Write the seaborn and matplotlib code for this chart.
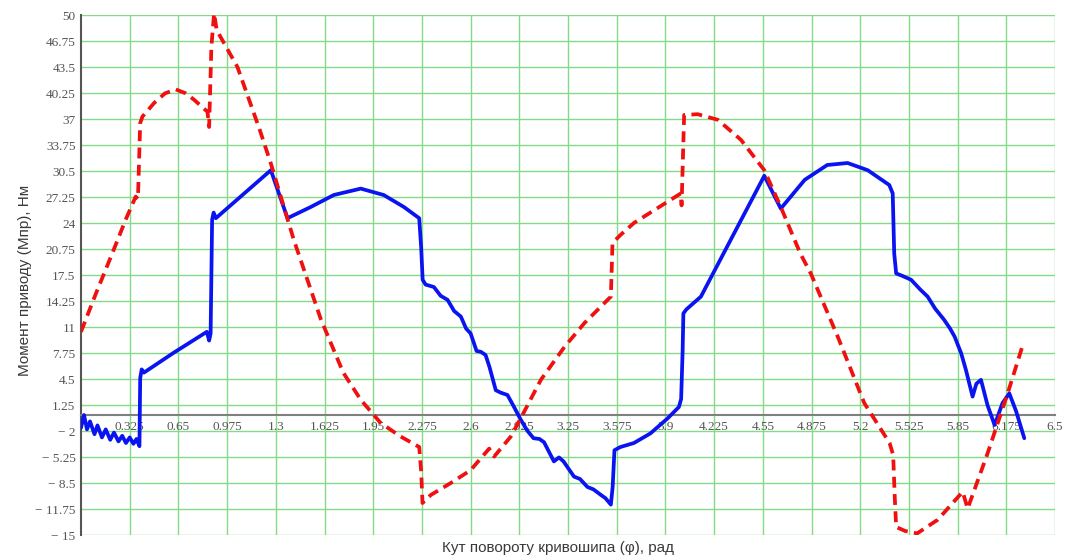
import numpy as np
import pandas as pd
import matplotlib
matplotlib.use("Agg")
import matplotlib.pyplot as plt
import seaborn as sns

# ---- data ----
blue_phi = [0.000, 0.020, 0.040, 0.060, 0.090, 0.110, 0.140, 0.165, 0.195, 0.220,
            0.250, 0.275, 0.300, 0.325, 0.350, 0.370, 0.390, 0.395, 0.405, 0.420,
            0.620, 0.840, 0.855, 0.865, 0.875, 0.885, 0.900, 1.267, 1.378, 1.533,
            1.687, 1.867, 2.020, 2.155, 2.257, 2.270, 2.280, 2.300, 2.355, 2.400,
            2.446, 2.490, 2.535, 2.570, 2.600, 2.640, 2.668, 2.700, 2.726, 2.768,
            2.800, 2.846, 2.890, 2.935, 2.980, 3.020, 3.060, 3.090, 3.156, 3.190,
            3.220, 3.290, 3.330, 3.380, 3.420, 3.470, 3.500, 3.536, 3.548, 3.560,
            3.600, 3.690, 3.800, 3.916, 3.990, 4.005, 4.015, 4.020, 4.040, 4.137,
            4.560, 4.670, 4.830, 4.980, 5.116, 5.250, 5.394, 5.417, 5.427, 5.440,
            5.480, 5.540, 5.600, 5.650, 5.700, 5.760, 5.800, 5.830, 5.874, 5.906,
            5.950, 5.975, 6.006, 6.050, 6.097, 6.150, 6.195, 6.240, 6.295]
blue_m = [-1.6, 0.0, -1.8, -0.8, -2.4, -1.3, -2.8, -1.8, -3.1, -2.2,
          -3.3, -2.6, -3.5, -2.8, -3.6, -3.0, -3.9, 4.6, 5.7, 5.3,
          7.8, 10.4, 9.3, 10.2, 24.4, 25.3, 24.6, 30.6, 24.6, 26.0,
          27.5, 28.3, 27.5, 26.0, 24.6, 21.0, 16.9, 16.3, 16.0, 14.9,
          14.4, 13.0, 12.3, 10.8, 10.2, 8.0, 7.9, 7.5, 6.0, 3.1,
          2.8, 2.5, 1.0, -0.6, -2.0, -2.9, -3.0, -3.4, -5.8, -5.3,
          -5.8, -7.7, -8.0, -9.0, -9.3, -10.0, -10.4, -11.2, -9.0, -4.4,
          -4.0, -3.5, -2.3, -0.4, 1.0, 2.0, 8.0, 12.7, 13.2, 14.8,
          29.9, 25.8, 29.4, 31.25, 31.5, 30.6, 28.75, 27.7, 20.2, 17.7,
          17.4, 16.9, 15.7, 14.8, 13.3, 11.9, 10.8, 9.8, 7.7, 5.6,
          2.3, 3.9, 4.4, 1.2, -1.25, 1.5, 2.7, 0.5, -2.9]

red_phi = [0.000, 0.100, 0.200, 0.300, 0.365, 0.380, 0.395, 0.410, 0.488, 0.560,
           0.632, 0.700, 0.755, 0.844, 0.855, 0.870, 0.888, 0.906, 1.044, 1.190,
           1.266, 1.420, 1.600, 1.750, 1.867, 2.000, 2.134, 2.257, 2.270, 2.279,
           2.334, 2.468, 2.600, 2.724, 2.757, 2.868, 2.946, 3.069, 3.226, 3.360,
           3.536, 3.547, 3.600, 3.690, 3.825, 4.003, 4.008, 4.025, 4.115, 4.250,
           4.404, 4.560, 4.670, 4.800, 4.870, 5.050, 5.227, 5.396, 5.420, 5.430,
           5.440, 5.500, 5.580, 5.717, 5.884, 5.917, 6.050, 6.184, 6.285]
red_m = [10.4, 15.2, 19.8, 24.5, 27.3, 27.0, 36.5, 37.3, 39.0, 40.2,
         40.7, 40.2, 39.4, 37.9, 36.0, 46.0, 50.2, 48.1, 43.5, 35.8,
         31.5, 21.9, 12.0, 5.3, 1.9, -1.0, -2.7, -4.0, -7.0, -11.0,
         -10.0, -8.5, -6.9, -4.2, -5.2, -2.7, 0.0, 4.4, 8.5, 11.5,
         14.8, 21.5, 22.5, 24.0, 25.6, 27.7, 26.2, 37.5, 37.6, 36.9,
         34.4, 30.6, 26.0, 20.2, 17.7, 9.8, 1.5, -3.5, -5.0, -10.0,
         -14.0, -14.5, -14.8, -13.1, -9.6, -11.7, -4.8, 2.7, 8.75]

x_ticks = [0.325, 0.65, 0.975, 1.3, 1.625, 1.95, 2.275, 2.6, 2.925, 3.25,
           3.575, 3.9, 4.225, 4.55, 4.875, 5.2, 5.525, 5.85, 6.175, 6.5]
x_tick_labels = ["0.325", "0.65", "0.975", "1.3", "1.625", "1.95", "2.275", "2.6",
                 "2.925", "3.25", "3.575", "3.9", "4.225", "4.55", "4.875", "5.2",
                 "5.525", "5.85", "6.175", "6.5"]
y_ticks = [50, 46.75, 43.5, 40.25, 37, 33.75, 30.5, 27.25, 24, 20.75, 17.5,
           14.25, 11, 7.75, 4.5, 1.25, -2, -5.25, -8.5, -11.75, -15]
y_tick_labels = ["50", "46.75", "43.5", "40.25", "37", "33.75", "30.5", "27.25",
                 "24", "20.75", "17.5", "14.25", "11", "7.75", "4.5", "1.25",
                 "\u2212 2", "\u2212 5.25", "\u2212 8.5", "\u2212 11.75", "\u2212 15"]

x_label = "Кут повороту кривошипа (φ), рад"
y_label = "Момент приводу (Мпр), Нм"

blue_df = pd.DataFrame({"phi": blue_phi, "M": blue_m})
red_df = pd.DataFrame({"phi": red_phi, "M": red_m})

sns.set_style("white")
plt.rcParams["font.family"] = ["Liberation Sans", "DejaVu Sans"]

fig = plt.figure(figsize=(10.68, 5.60), dpi=100)
ax = fig.add_axes([81 / 1068, 25 / 560, 974 / 1068, 520 / 560])

sns.lineplot(data=blue_df, x="phi", y="M", ax=ax, sort=False, estimator=None,
             color="#0a14f0", linewidth=2.7, zorder=3)
sns.lineplot(data=red_df, x="phi", y="M", ax=ax, sort=False, estimator=None,
             color="#f01010", linewidth=2.7, linestyle=(0, (2.9, 1.7)), zorder=4)

ax.set_xlim(0, 6.5)
ax.set_ylim(-15, 50)

ax.set_xticks(x_ticks, x_tick_labels)
ax.set_yticks(y_ticks, y_tick_labels)

ax.grid(True, color="#86da86", linewidth=1.0, zorder=0)
ax.set_axisbelow(True)

for s in ["top", "right"]:
    ax.spines[s].set_visible(False)
ax.spines["left"].set_position(("data", 0))
ax.spines["bottom"].set_position(("data", 0))
ax.spines["left"].set_color("#555555")
ax.spines["left"].set_linewidth(1.5)
ax.spines["bottom"].set_color("#808080")
ax.spines["bottom"].set_linewidth(1.5)

ax.tick_params(axis="both", direction="inout", length=4, width=0.8,
               colors="#666666", labelcolor="#555555", labelsize=9.5, pad=2)
for lab in ax.get_xticklabels() + ax.get_yticklabels():
    lab.set_fontfamily(["Liberation Serif", "DejaVu Serif"])

ax.set_xlabel(x_label, fontsize=11, color="#3a3a3a")
ax.set_ylabel(y_label, fontsize=11, color="#3a3a3a")
ax.xaxis.set_label_coords(0.49, -0.012)
ax.yaxis.set_label_coords(-0.05, 0.49)

fig.savefig("out.png", dpi=100)
